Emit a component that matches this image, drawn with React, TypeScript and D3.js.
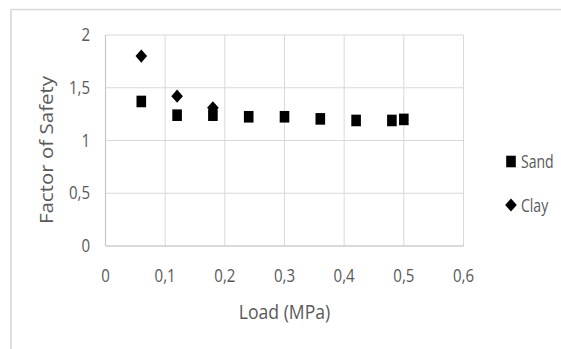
import React from "react";
import * as d3 from "d3";

// Load (MPa) and factor of safety per soil type
const sandLoad = [0.06, 0.12, 0.18, 0.24, 0.3, 0.36, 0.42, 0.48, 0.5];
const sandFS = [1.37, 1.24, 1.24, 1.225, 1.225, 1.205, 1.19, 1.19, 1.2];
const clayLoad = [0.06, 0.12, 0.18];
const clayFS = [1.8, 1.42, 1.31];

const xTicks = [0, 0.1, 0.2, 0.3, 0.4, 0.5, 0.6];
const yTicks = [0, 0.5, 1, 1.5, 2];
const seriesNames = ["Sand", "Clay"];

const W = 561;
const H = 349;
const plot = { left: 105.5, right: 463.5, top: 35, bottom: 246 };

const fmt = (v: number) => String(v).replace(".", ",");

const GRID = "#d9d9d9";
const TEXT = "#595959";
const FONT = "'Open Sans', 'Noto Sans', sans-serif";

function Square({ x, y }: { x: number; y: number }) {
  return <rect x={x - 4.8} y={y - 5.8} width={9.6} height={11.6} fill="#000" />;
}

function Diamond({ x, y }: { x: number; y: number }) {
  const w = 5.8;
  const h = 6.6;
  return <path d={`M${x},${y - h}L${x + w},${y}L${x},${y + h}L${x - w},${y}Z`} fill="#000" />;
}

export default function App() {
  const x = d3.scaleLinear().domain([0, 0.6]).range([plot.left, plot.right]);
  const y = d3.scaleLinear().domain([0, 2]).range([plot.bottom, plot.top]);

  const sand = sandLoad.map((l, i) => ({ l, v: sandFS[i] }));
  const clay = clayLoad.map((l, i) => ({ l, v: clayFS[i] }));

  return (
    <svg
      width={W}
      height={H}
      style={{ position: "absolute", left: 0, top: 0, background: "#fff" }}
      fontFamily={FONT}
    >
      <rect x={0} y={0} width={W} height={H} fill="#fff" />
      {/* chart frame */}
      <path d={`M11,${H + 2}V9.5H${W + 2}`} fill="none" stroke={GRID} strokeWidth={1.6} />

      {/* grid */}
      {yTicks.map((t) => (
        <line key={"h" + t} x1={plot.left} x2={plot.right} y1={y(t)} y2={y(t)} stroke={GRID} strokeWidth={1} />
      ))}
      {xTicks.map((t) => (
        <line key={"v" + t} x1={x(t)} x2={x(t)} y1={plot.top} y2={plot.bottom} stroke={GRID} strokeWidth={1} />
      ))}
      <line x1={plot.left} x2={plot.right} y1={plot.bottom} y2={plot.bottom} stroke="#c8c8c8" strokeWidth={1.2} />
      <line x1={plot.left} x2={plot.left} y1={plot.top} y2={plot.bottom} stroke="#c8c8c8" strokeWidth={1.2} />

      {/* tick labels */}
      {yTicks.map((t) => (
        <text
          key={"yl" + t}
          transform={`translate(90,${y(t) + 6}) scale(0.86,1)`}
          textAnchor="end"
          fontSize={17.5}
          fill={TEXT}
        >
          {fmt(t)}
        </text>
      ))}
      {xTicks.map((t) => (
        <text
          key={"xl" + t}
          transform={`translate(${x(t)},${281.5}) scale(0.86,1)`}
          textAnchor="middle"
          fontSize={17.5}
          fill={TEXT}
        >
          {fmt(t)}
        </text>
      ))}

      {/* axis titles */}
      <text
        transform={`translate(${(plot.left + plot.right) / 2},319) scale(0.88,1)`}
        textAnchor="middle"
        fontSize={20}
        fill={TEXT}
      >
        Load (MPa)
      </text>
      <text
        transform={`translate(53,150) rotate(-90) scale(1,0.86)`}
        textAnchor="middle"
        fontSize={20.5}
        fill={TEXT}
      >
        Factor of Safety
      </text>

      {/* data */}
      {sand.map((d, i) => (
        <Square key={"s" + i} x={x(d.l)} y={y(d.v)} />
      ))}
      {clay.map((d, i) => (
        <Diamond key={"c" + i} x={x(d.l)} y={y(d.v)} />
      ))}

      {/* legend */}
      <Square x={511} y={161.5} />
      <text transform="translate(521,168) scale(0.78,1)" fontSize={18} fill={TEXT}>
        {seriesNames[0]}
      </text>
      <Diamond x={511} y={205} />
      <text transform="translate(521,211.5) scale(0.78,1)" fontSize={18} fill={TEXT}>
        {seriesNames[1]}
      </text>
    </svg>
  );
}
